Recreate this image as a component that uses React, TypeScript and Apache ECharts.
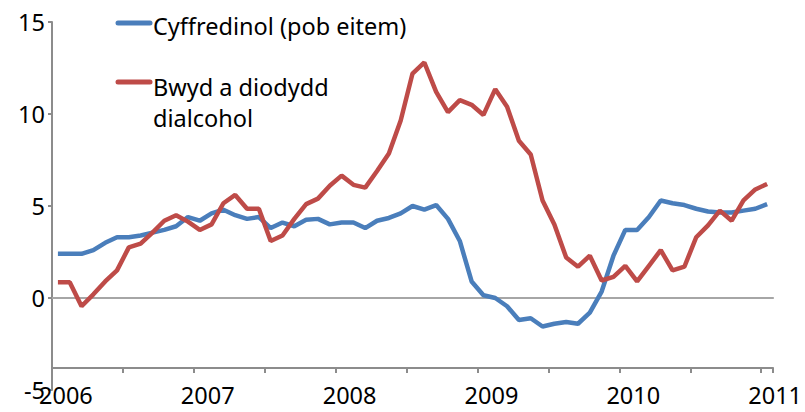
import React, { useEffect, useRef } from 'react';
import * as echarts from 'echarts';

const years = ['2006', '2007', '2008', '2009', '2010', '2011'];
const monthCodes = ['01', '02', '03', '04', '05', '06', '07', '08', '09', '10', '11', '12'];
const categories: string[] = [];
years.forEach((y, yi) => {
  monthCodes.forEach((m, mi) => {
    if (yi < years.length - 1 || mi === 0) categories.push(`${y}-${m}`);
  });
});

const yTicks = [-5, 0, 5, 10, 15];

const seriesNames = ['Cyffredinol (pob eitem)', 'Bwyd a diodydd\ndialcohol'];

const cyffredinol = [
  2.4, 2.4, 2.4, 2.6, 3.0, 3.3, 3.3, 3.4, 3.55, 3.7,
  3.9, 4.4, 4.2, 4.6, 4.8, 4.5, 4.3, 4.4, 3.8, 4.1,
  3.9, 4.25, 4.3, 4.0, 4.1, 4.1, 3.8, 4.2, 4.35, 4.6,
  5.0, 4.8, 5.05, 4.3, 3.1, 0.9, 0.15, 0.0, -0.45, -1.2,
  -1.1, -1.55, -1.4, -1.3, -1.4, -0.8, 0.35, 2.3, 3.7, 3.7,
  4.4, 5.3, 5.15, 5.05, 4.85, 4.7, 4.65, 4.65, 4.75, 4.85, 5.1,
];

const bwyd = [
  0.85, 0.85, -0.45, 0.2, 0.9, 1.5, 2.75, 2.95, 3.55, 4.2,
  4.5, 4.15, 3.7, 4.0, 5.15, 5.6, 4.85, 4.85, 3.1, 3.4,
  4.3, 5.1, 5.4, 6.1, 6.65, 6.15, 6.0, 6.9, 7.85, 9.65,
  12.2, 12.8, 11.2, 10.1, 10.75, 10.5, 9.95, 11.35, 10.4, 8.55,
  7.8, 5.3, 4.0, 2.2, 1.7, 2.3, 0.95, 1.15, 1.75, 0.9,
  1.75, 2.6, 1.5, 1.7, 3.3, 3.95, 4.75, 4.2, 5.3, 5.9, 6.2,
];

const BLUE = '#4a7ebb';
const RED = '#be4b48';
const AXIS = '#8c8c8c';
const FONT = 'Noto Sans';
const FS = 23.5;

export default function App() {
  const ref = useRef<HTMLDivElement>(null);
  useEffect(() => {
    document.body.style.margin = '0';
    const chart = echarts.init(ref.current!, null, { renderer: 'svg' });
    chart.setOption({
      animation: false,
      textStyle: { fontFamily: FONT },
      grid: { left: 52, right: 30, top: 22, bottom: 22, containLabel: false },
      xAxis: [
        {
          type: 'category',
          data: categories,
          position: 'bottom',
          boundaryGap: true,
          offset: -22,
          axisLine: { show: true, onZero: false, lineStyle: { color: AXIS, width: 2 } },
          axisTick: { show: true, interval: 5, length: 5, inside: false, lineStyle: { color: AXIS, width: 2 } },
          axisLabel: {
            show: true,
            interval: 11,
            margin: 15,
            fontSize: FS,
            color: '#000',
            fontFamily: FONT,
            padding: [0, 0, 0, 16],
            formatter: (v: string) => (v.endsWith('-01') ? v.slice(0, 4) : ''),
          },
          splitLine: { show: false },
        },
        {
          type: 'category',
          data: categories,
          position: 'top',
          boundaryGap: true,
          axisLine: { show: true, onZero: true, lineStyle: { color: '#a6a6a6', width: 2 } },
          axisTick: { show: false },
          axisLabel: { show: false },
          splitLine: { show: false },
        },
      ],
      yAxis: {
        type: 'value',
        min: yTicks[0],
        max: yTicks[yTicks.length - 1],
        interval: 5,
        axisLine: { show: true, lineStyle: { color: AXIS, width: 2 } },
        axisTick: { show: true, length: 4, lineStyle: { color: AXIS, width: 2 } },
        axisLabel: { fontSize: FS, color: '#000', margin: 7, fontFamily: FONT },
        splitLine: { show: false },
      },
      series: [
        {
          name: seriesNames[0],
          type: 'line',
          data: cyffredinol,
          showSymbol: false,
          symbol: 'none',
          lineStyle: { color: BLUE, width: 4.5 },
          itemStyle: { color: BLUE },
          z: 3,
        },
        {
          name: seriesNames[1],
          type: 'line',
          data: bwyd,
          showSymbol: false,
          symbol: 'none',
          lineStyle: { color: RED, width: 4.5 },
          itemStyle: { color: RED },
          z: 4,
        },
      ],
      graphic: [
        { type: 'line', shape: { x1: 118, y1: 23, x2: 150, y2: 23 }, style: { stroke: BLUE, lineWidth: 5, lineCap: 'round' } },
        { type: 'text', x: 153, y: 26, style: { text: seriesNames[0], font: `${FS}px "${FONT}"`, fill: '#000', verticalAlign: 'middle' } },
        { type: 'line', shape: { x1: 118, y1: 82, x2: 150, y2: 82 }, style: { stroke: RED, lineWidth: 5, lineCap: 'round' } },
        { type: 'text', x: 153, y: 71, style: { text: seriesNames[1], font: `${FS}px "${FONT}"`, fill: '#000', lineHeight: 31, verticalAlign: 'top' } },
      ],
    });
    return () => chart.dispose();
  }, []);
  return <div ref={ref} style={{ position: 'absolute', left: 0, top: 0, width: 805, height: 412 }} />;
}
